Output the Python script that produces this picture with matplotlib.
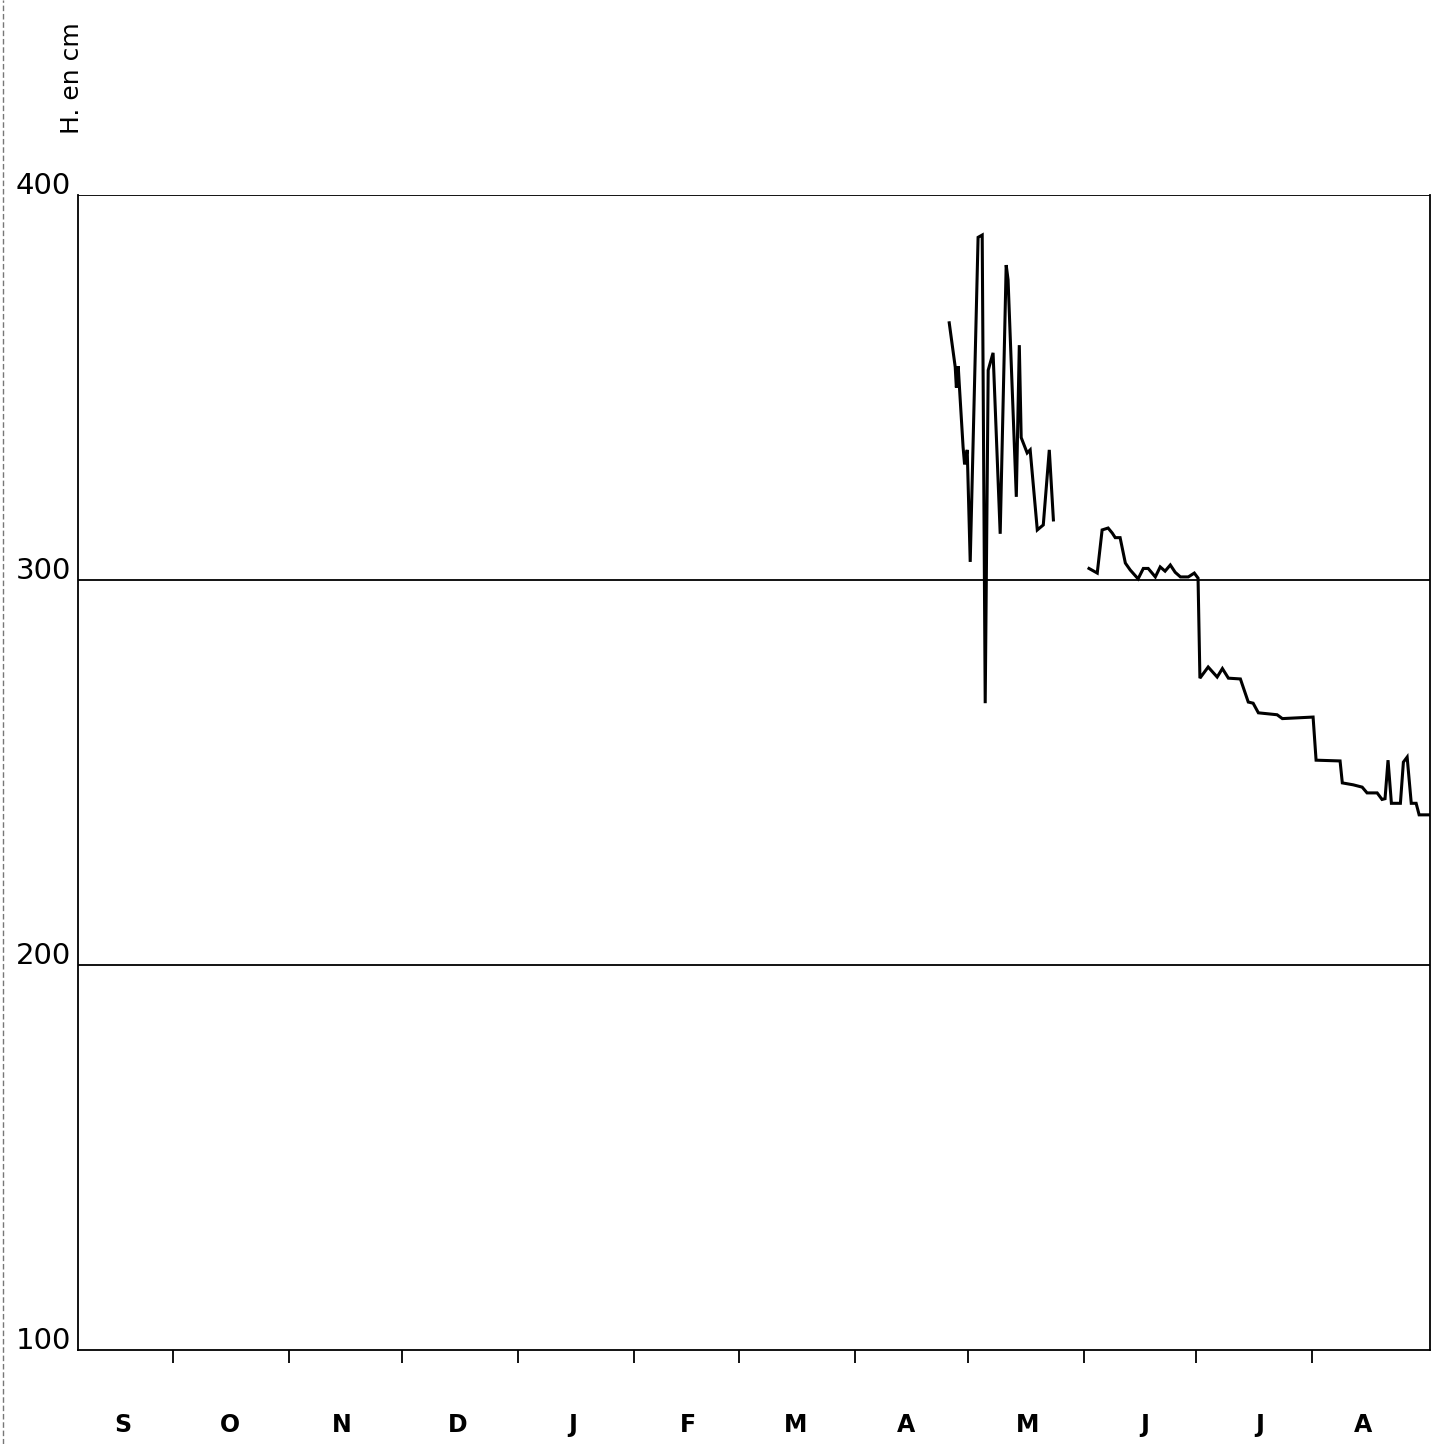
import matplotlib
matplotlib.use("Agg")
import matplotlib.pyplot as plt
from matplotlib.lines import Line2D

# Days counted from 1 September (hydrological year Sep -> Aug)
months = ["S", "O", "N", "D", "J", "F", "M", "A", "M", "J", "J", "A"]
month_label_pos = [16.6, 45.2, 75.1, 106.0, 136.5, 167.4, 196.0, 225.6,
                   257.9, 289.3, 320.0, 347.6]
month_starts = [30, 61, 91, 122, 153, 181, 212, 242, 273, 303, 334]

# Segment 1 : late April - early May (strong oscillations)
days1 = [237.1, 238.7, 239.0, 239.5, 239.8, 240.8, 241.2, 241.9, 242.7, 244.8,
         245.9, 246.7, 247.5, 248.8, 250.7, 252.3, 252.8, 255.0, 255.8, 256.3,
         257.9, 258.7, 260.6, 262.2, 263.8, 264.9]
h1 = [366.8, 355.3, 350.0, 355.5, 350.5, 334.5, 330.0, 333.8, 304.7, 389.0,
      389.6, 268.0, 354.5, 359.0, 312.0, 381.8, 378.0, 321.6, 361.0, 337.0,
      333.0, 333.8, 313.0, 314.3, 333.8, 315.6]

# Segment 2 : late May - end of August
days2 = [274.4, 276.6, 277.9, 279.5, 280.6, 281.4, 282.7, 284.1, 285.4, 287.5,
         288.9, 290.2, 292.1, 293.4, 294.7, 296.1, 297.4, 298.8, 300.9, 302.5,
         303.5, 304.0, 306.2, 308.6, 310.0, 311.6, 314.8, 316.9, 318.2, 319.6,
         324.6, 326.0, 334.2, 335.0, 341.4, 342.0, 344.9, 347.3, 348.6, 351.3,
         352.6, 353.4, 354.2, 355.1, 357.5, 358.3, 359.3, 360.4, 361.7, 362.5,
         365.7]
h2 = [303.0, 301.8, 313.0, 313.5, 312.2, 311.0, 311.0, 304.4, 302.6, 300.3,
      303.0, 303.0, 300.8, 303.4, 302.3, 303.9, 302.0, 300.8, 300.8, 301.8,
      300.5, 274.5, 277.4, 274.8, 277.0, 274.5, 274.3, 268.3, 268.0, 265.5,
      265.0, 264.0, 264.4, 253.2, 253.0, 247.3, 246.8, 246.2, 244.7, 244.7,
      243.0, 243.2, 253.2, 242.0, 242.0, 252.7, 254.0, 242.0, 242.0, 239.0,
      239.0]

yticks = [100, 200, 300, 400]

fig = plt.figure(figsize=(14.32, 14.44), dpi=100)
fig.patch.set_facecolor("white")
ax = fig.add_axes([78 / 1432, 94 / 1444, (1430 - 78) / 1432, (1350 - 195) / 1444])

ax.set_xlim(4.6, 365.4)
ax.set_ylim(100, 400)

ax.plot(days1, h1, color="black", lw=2.2, solid_joinstyle="miter")
ax.plot(days2, h2, color="black", lw=2.2, solid_joinstyle="miter")

for v in [200, 300, 400]:
    ax.axhline(v, color="black", lw=1.3, zorder=0)

for s in ["left", "right", "bottom"]:
    ax.spines[s].set_linewidth(1.3)
ax.spines["top"].set_visible(False)

ax.set_xticks(month_starts)
ax.set_xticklabels([])
ax.tick_params(axis="x", direction="out", length=9, width=1.3, color="black")
ax.set_yticks([])

for pos, m in zip(month_label_pos, months):
    ax.text(pos, -0.065, m, transform=ax.get_xaxis_transform(), ha="center",
            va="center", fontsize=17, fontweight="bold", family="DejaVu Sans")

for v in yticks:
    ax.text(-0.005, v + 0.3, str(v), transform=ax.get_yaxis_transform(),
            ha="right", va="baseline", fontsize=21, family="DejaVu Sans")

fig.text(72 / 1432, 1 - 78 / 1444, "H. en cm", rotation=90, ha="center",
         va="center", fontsize=18, family="DejaVu Sans")

# page edge line at the far left
fig.add_artist(Line2D([3 / 1432, 3 / 1432], [0, 1], color="#777777", lw=1.0,
                      ls=(0, (4, 2)), transform=fig.transFigure))

fig.savefig("out.png", dpi=100, facecolor="white")
